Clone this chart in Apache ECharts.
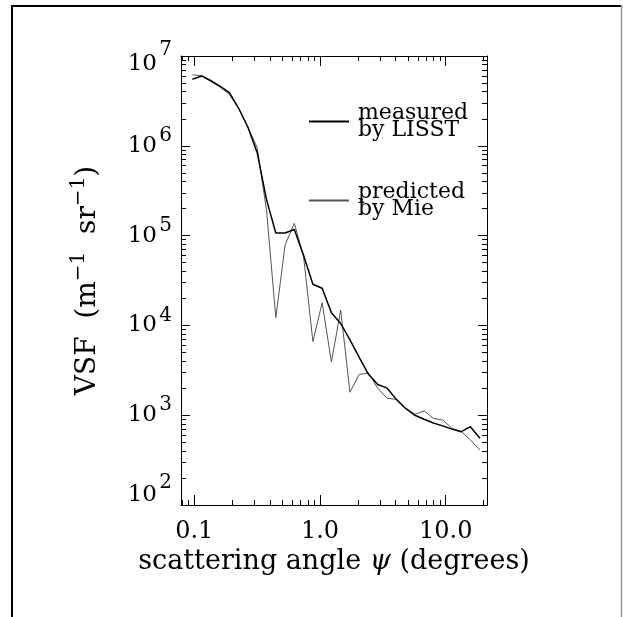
<!DOCTYPE html>
<html><head><meta charset="utf-8">
<script src="https://cdn.jsdelivr.net/npm/echarts@6/dist/echarts.min.js"></script>
<style>html,body{margin:0;padding:0;background:#fff}#c{width:623px;height:617px}</style>
</head><body><div id="c"></div>
<script>
// scattering angles (degrees)
const angles = [0.0966,0.1145,0.1357,0.1608,0.1905,0.2258,0.2676,0.317,0.3757,0.4452,0.5276,0.625,0.741,0.878,1.04,1.233,1.461,1.731,2.05,2.43,2.88,3.42,4.05,4.80,5.68,6.74,7.98,9.46,11.2,13.3,15.7,18.7];
// VSF measured by LISST
const measured = [5.5e6,6.0e6,5.3e6,4.6e6,3.9e6,2.6e6,1.6e6,8.3e5,2.5e5,1.07e5,1.07e5,1.17e5,6.0e4,2.87e4,2.59e4,1.38e4,1.05e4,6.9e3,4.4e3,2.85e3,2.2e3,2.0e3,1.5e3,1.19e3,1.0e3,900,820,760,700,655,745,553];
// VSF predicted by Mie
const predicted = [6.2e6,6.0e6,5.2e6,4.5e6,3.7e6,2.6e6,1.6e6,9.5e5,1.9e5,1.22e4,7.85e4,1.37e5,5.8e4,6.6e3,1.79e4,3.9e3,1.48e4,1.8e3,2.85e3,2.95e3,2.0e3,1.54e3,1.5e3,1.19e3,1.02e3,1.12e3,920,885,715,660,530,410];
// axis ranges and tick labels
const xRange = [0.0784, 21.3];
const yRange = [100, 1e7];
const xTickLabels = {'-1':'0.1','0':'1.0','1':'10.0'};
const xMinorTicks = [0.08,0.09,0.2,0.3,0.4,0.5,0.6,0.7,0.8,0.9,2,3,4,5,6,7,8,9,20];
const yMinorTicks = [];
[100,1000,10000,100000,1000000].forEach(d=>{for(let k=2;k<=9;k++) yMinorTicks.push(k*d);});

const F = 'DejaVu Serif';
const chart = echarts.init(document.getElementById('c'), null, {renderer:'canvas'});
const exp = v => Math.log10(v);
const isPow = v => Math.abs(exp(v) - Math.round(exp(v))) < 1e-6;

const noShow = {show:false};
function logX(pos, labels){
  return {type:'log', logBase:10, min:xRange[0], max:xRange[1], position:pos, gridIndex:0,
    axisLine:{show:true, onZero:false, lineStyle:{color:'#000', width:1}},
    axisTick:{show:true, inside:true, length:10, lineStyle:{color:'#000', width:1}},
    axisLabel: labels ? {show:true, margin:15, fontFamily:F, fontSize:24, color:'#000',
      formatter: v => isPow(v) ? (xTickLabels[String(Math.round(exp(v)))] || '') : ''} : noShow,
    splitLine:noShow, minorTick:noShow, minorSplitLine:noShow};
}
function minorX(pos){
  return {type:'value', min:exp(xRange[0]), max:exp(xRange[1]), position:pos, gridIndex:0,
    axisLine:{show:false, onZero:false}, axisLabel:noShow, splitLine:noShow,
    axisTick:{show:true, inside:true, length:5, lineStyle:{color:'#000', width:1}, customValues: xMinorTicks.map(exp)}};
}
function logY(pos, line){
  return {type:'log', logBase:10, min:yRange[0], max:yRange[1], position:pos, gridIndex:0,
    axisLine:{show:line, onZero:false, lineStyle:{color:'#000', width:1}},
    axisTick:{show:line, inside:true, length:9, lineStyle:{color:'#000', width:1}},
    axisLabel:noShow, splitLine:noShow, minorTick:noShow, minorSplitLine:noShow};
}
function minorY(pos){
  return {type:'value', min:exp(yRange[0]), max:exp(yRange[1]), position:pos, gridIndex:0,
    axisLine:{show:false, onZero:false}, axisLabel:noShow, splitLine:noShow,
    axisTick:{show:true, inside:true, length:5, lineStyle:{color:'#000', width:1}, customValues: yMinorTicks.map(exp)}};
}

const yMain = logY('left', true);
yMain.axisLabel = {show:true, margin:24, color:'#000', fontFamily:F, fontSize:23,
  formatter: v => { const e = Math.round(exp(v)); return e===7 ? '{t|10}' : e===2 ? '{u|10}' : '{b|10}'; },
  rich:{ b:{fontFamily:F, fontSize:23, color:'#000'},
         t:{fontFamily:F, fontSize:23, color:'#000', padding:[16,0,0,0]},
         u:{fontFamily:F, fontSize:23, color:'#000', padding:[0,0,20,0]} }};
yMain.name = 'VSF  (m{s|−1}  sr{s|−1})';
yMain.nameLocation = 'middle';
yMain.nameGap = 74;
yMain.nameTextStyle = {fontFamily:F, fontSize:28, color:'#000',
  rich:{s:{fontFamily:F, fontSize:20, color:'#000', padding:[0,0,18,0]}}};

const ySup = logY('left', false);
ySup.axisLabel = {show:true, margin:9, color:'#000', fontFamily:F, fontSize:20,
  formatter: v => { const e = Math.round(exp(v)); return e===7 ? '{p|7}' : e===2 ? '{q|2}' : '{s|'+e+'}'; },
  rich:{ s:{fontFamily:F, fontSize:20, color:'#000', padding:[0,0,20,0]},
         p:{fontFamily:F, fontSize:20, color:'#000', padding:[0,0,13,0]},
         q:{fontFamily:F, fontSize:20, color:'#000', padding:[0,0,45,0]} }};

const xMain = logX('bottom', true);
xMain.name = 'scattering angle {i|ψ} (degrees)';
xMain.nameLocation = 'middle';
xMain.nameGap = 39;
xMain.nameTextStyle = {fontFamily:F, fontSize:27, color:'#000',
  rich:{i:{fontFamily:F, fontSize:27, fontStyle:'italic', color:'#000'}}};

chart.setOption({
  animation:false,
  backgroundColor:'#fff',
  textStyle:{fontFamily:F},
  grid:{left:181, top:56, width:306, height:449, containLabel:false},
  xAxis:[xMain, logX('top', false), minorX('bottom'), minorX('top')],
  yAxis:[yMain, ySup, logY('right', true), minorY('left'), minorY('right')],
  legend:{show:true, orient:'vertical', left:303, top:97, itemWidth:40, itemHeight:2, itemGap:40,
    selectedMode:false, itemStyle:{opacity:0},
    textStyle:{fontFamily:F, fontSize:22, lineHeight:17, color:'#000', padding:[0,0,0,4]},
    data:['measured\nby LISST','predicted\nby Mie']},
  graphic:[
    {type:'line', shape:{x1:12, y1:5, x2:12, y2:617}, style:{stroke:'#000', lineWidth:2}, silent:true},
    {type:'line', shape:{x1:11, y1:6, x2:622, y2:6}, style:{stroke:'#000', lineWidth:2}, silent:true},
    {type:'line', shape:{x1:621.5, y1:5, x2:621.5, y2:617}, style:{stroke:'#999', lineWidth:1.5}, silent:true}
  ],
  series:[
    {name:'measured\nby LISST', type:'line', xAxisIndex:0, yAxisIndex:0, symbol:'none', z:3,
      lineStyle:{color:'#000', width:1.5}, itemStyle:{color:'#000'},
      data: angles.map((a,i)=>[a, measured[i]])},
    {name:'predicted\nby Mie', type:'line', xAxisIndex:0, yAxisIndex:0, symbol:'none', z:2,
      lineStyle:{color:'#555', width:1}, itemStyle:{color:'#555'},
      data: angles.map((a,i)=>[a, predicted[i]])}
  ]
});
</script></body></html>
